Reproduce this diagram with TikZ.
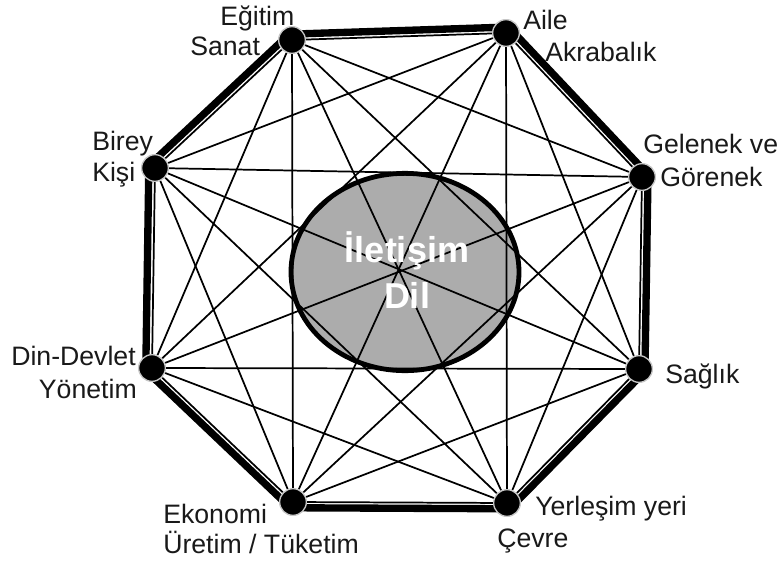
\documentclass[tikz,border=0pt]{standalone}
\usepackage{fontspec}
\setmainfont{Liberation Sans}
\usetikzlibrary{calc,shapes.geometric}
\pgfdeclarelayer{front}
\pgfsetlayers{main,front}

\begin{document}
\begin{tikzpicture}[x=0.75pt,y=-0.75pt,
  dot/.style={circle, fill=black, draw=gray!45, line width=1pt, minimum size=20pt, inner sep=0pt},
  lbl/.style={font=\fontsize{20}{24}\selectfont, inner sep=0pt, text=black!90},
  link/.style={line width=1.3pt},
  rim/.style={line width=5.5pt, line join=round},
  core/.style={ellipse, draw, fill=gray!65, line width=3.6pt, minimum width=171pt, minimum height=148pt}]
\useasboundingbox (0,0) rectangle (779,565);

\begin{pgfonlayer}{front}
\node[dot] (E) at (292,40) {};
\node[dot] (A) at (506,33) {};
\node[dot] (G) at (642,177) {};
\node[dot] (S) at (639,369) {};
\node[dot] (Y) at (507,503) {};
\node[dot] (K) at (293,502) {};
\node[dot] (D) at (152,368) {};
\node[dot] (B) at (155,168) {};
\end{pgfonlayer}

\coordinate (c) at (401,272);
\node[core] (core) at (405,272) {};

% outer frame
\draw[rim] ($(c)!1.025!(E)$)
  \foreach \n in {A,G,S,Y,K,D,B} { -- ($(c)!1.025!(\n)$) } -- cycle;

% every pair
\foreach \a [count=\i] in {E,A,G,S,Y,K,D,B}
  \foreach \b [count=\j] in {E,A,G,S,Y,K,D,B}
    {\ifnum\i<\j \draw[link] (\a) -- (\b); \fi}

\begin{pgfonlayer}{front}
\node[text=white, align=center, inner sep=0pt, font=\bfseries\fontsize{27}{34}\selectfont] (title) at (407,270) {İletişim\\Dil};
\end{pgfonlayer}

\node[lbl, anchor=base west] (e1) at (220,25) {Eğitim};
\node[lbl, anchor=base west] (e2) at (190,55) {Sanat};
\node[lbl, anchor=base west] (a1) at (523,29) {Aile};
\node[lbl, anchor=base west] (a2) at (545,61) {Akrabalık};
\node[lbl, anchor=base west] (b1) at (92,150) {Birey};
\node[lbl, anchor=base west] (b2) at (92,181) {Kişi};
\node[lbl, anchor=base west] (g1) at (643,153) {Gelenek ve};
\node[lbl, anchor=base west] (g2) at (660,186) {Görenek};
\node[lbl, anchor=base west] (s1) at (665,383) {Sağlık};
\node[lbl, anchor=base west] (y1) at (535,515) {Yerleşim yeri};
\node[lbl, anchor=base west] (y2) at (497,547) {Çevre};
\node[lbl, anchor=base east] (d1) at (136,365) {Din-Devlet};
\node[lbl, anchor=base east] (d2) at (137,398) {Yönetim};
\node[lbl, anchor=base west] (k1) at (163,523) {Ekonomi};
\node[lbl, anchor=base west] (k2) at (163,553) {Üretim / Tüketim};
\end{tikzpicture}
\end{document}
